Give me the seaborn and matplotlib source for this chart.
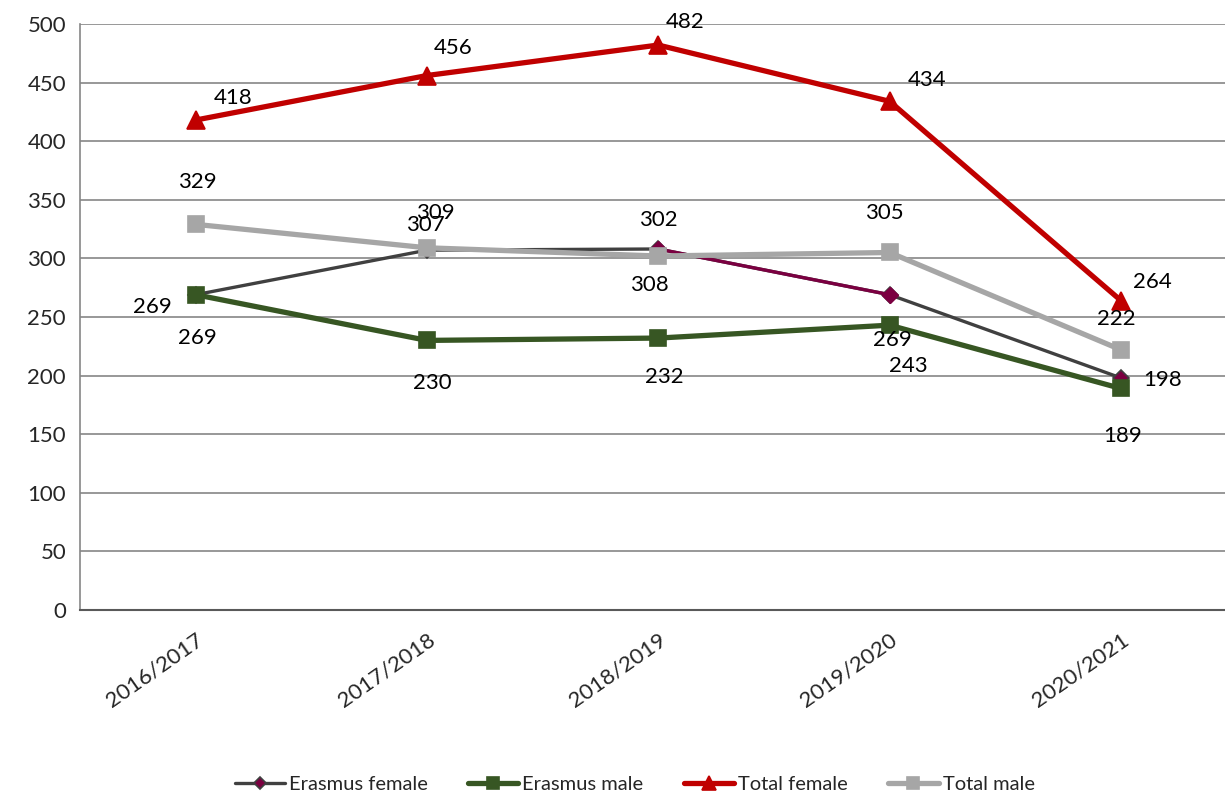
import pandas as pd
import seaborn as sns
import matplotlib.pyplot as plt

# ==============================================================================
# DATA
# ==============================================================================

YEARS = ["2016/2017", "2017/2018", "2018/2019", "2019/2020", "2020/2021"]

ERASMUS_FEMALE = [269, 307, 308, 269, 198]
ERASMUS_MALE = [269, 230, 232, 243, 189]
TOTAL_FEMALE = [418, 456, 482, 434, 264]
TOTAL_MALE = [329, 309, 302, 305, 222]

# label offsets in pixels (dx, dy), dy positive = up
OFFSETS = {
    "Erasmus female": [(-43, -12), (-2, 25), (-9, -36), (3, -45), (42, -2)],
    "Erasmus male": [(2, -43), (5, -43), (6, -39), (19, -41), (2, -48)],
    "Total female": [(37, 22), (26, 28), (27, 23), (37, 21), (31, 19)],
    "Total male": [(2, 42), (8, 35), (0, 36), (-5, 39), (-5, 31)],
}

STYLE = {
    "Erasmus female": dict(color="#404040", marker="D", lw=2.4, ms=8,
                           mfc="#7B0041", mec="#404040"),
    "Erasmus male": dict(color="#375623", marker="s", lw=3.8, ms=11.5,
                         mfc="#375623", mec="#375623"),
    "Total female": dict(color="#C00000", marker="^", lw=3.8, ms=13,
                         mfc="#C00000", mec="#C00000"),
    "Total male": dict(color="#A6A6A6", marker="s", lw=3.8, ms=11.5,
                       mfc="#A6A6A6", mec="#A6A6A6"),
}

SERIES = {
    "Erasmus female": ERASMUS_FEMALE,
    "Erasmus male": ERASMUS_MALE,
    "Total female": TOTAL_FEMALE,
    "Total male": TOTAL_MALE,
}

# ==============================================================================
# PLOT
# ==============================================================================

sns.set_theme(style="white")
plt.rcParams["font.family"] = ["Lato", "DejaVu Sans"]

fig = plt.figure(figsize=(12.25, 7.98), dpi=100)
ax = fig.add_axes([0.0653, 0.2356, 0.9347, 0.7344])

x = list(range(len(YEARS)))
draw_order = ["Erasmus female", "Erasmus male", "Total female", "Total male"]

for name in draw_order:
    st = STYLE[name]
    df = pd.DataFrame({"x": x, "y": SERIES[name]})
    sns.lineplot(data=df, x="x", y="y", ax=ax, color=st["color"],
                 linewidth=st["lw"], marker=st["marker"], markersize=st["ms"],
                 markerfacecolor=st["mfc"], markeredgecolor=st["mec"],
                 markeredgewidth=1.2, label=name, zorder=3)
    if name == "Erasmus female":
        # maroon segment between 2018/2019 and 2019/2020
        seg = df.iloc[2:4]
        ax.plot(seg["x"], seg["y"], color="#7B0041", lw=st["lw"], zorder=3)
        ax.plot(seg["x"], seg["y"], ls="none", marker="D", ms=st["ms"],
                mfc="#7B0041", mec="#7B0041", zorder=3)

for name, vals in SERIES.items():
    for i, v in enumerate(vals):
        dx, dy = OFFSETS[name][i]
        ax.annotate(str(v), (i, v), xytext=(dx, dy), textcoords="offset pixels",
                    ha="center", va="center", fontsize=16, color="black", zorder=5)

ax.set_xlim(-0.5, 4.45)
ax.set_ylim(0, 500)
ax.set_yticks(range(0, 501, 50))
ax.set_xticks(x)
ax.set_xticklabels(YEARS, rotation=35, ha="right", rotation_mode="anchor",
                   fontsize=16)
ax.tick_params(axis="y", labelsize=16, length=6, color="#868686", pad=4)
ax.tick_params(axis="x", length=0, pad=14)
ax.set_xlabel("")
ax.set_ylabel("")
ax.yaxis.grid(True, color="#868686", lw=1.2)
ax.set_axisbelow(True)

for s in ["top", "right"]:
    ax.spines[s].set_visible(False)
ax.spines["left"].set_color("#868686")
ax.spines["left"].set_linewidth(1.2)
ax.spines["bottom"].set_color("#595959")
ax.spines["bottom"].set_linewidth(1.5)

handles, labels = ax.get_legend_handles_labels()
order = ["Erasmus female", "Erasmus male", "Total female", "Total male"]
hmap = dict(zip(labels, handles))
ax.legend([hmap[o] for o in order], order, loc="center",
          bbox_to_anchor=(0.518, 0.0165), bbox_transform=fig.transFigure,
          ncol=4, frameon=False, fontsize=14.5, handlelength=2.5,
          columnspacing=2.0, handletextpad=0.2, markerscale=0.75)

fig.savefig("out.png", dpi=100)
